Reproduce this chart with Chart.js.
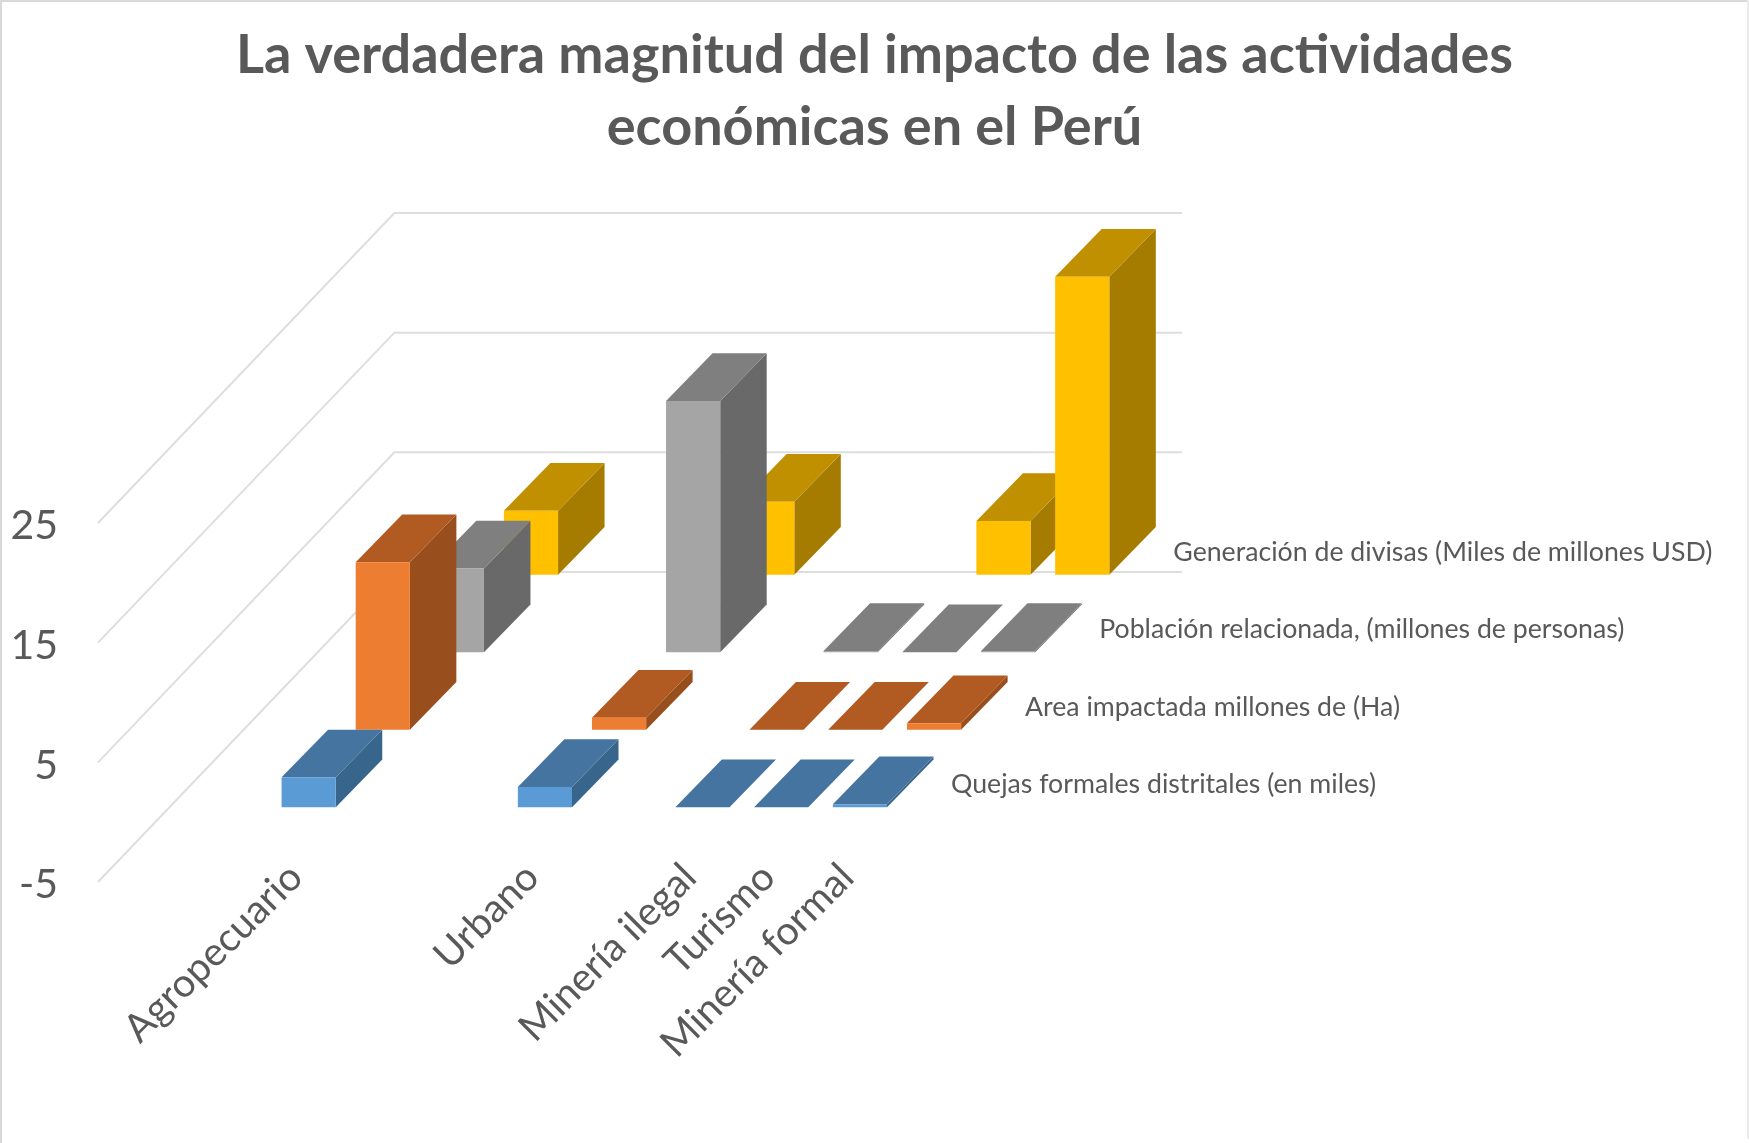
<!DOCTYPE html>
<html lang="es">
<head>
    <meta charset="UTF-8">
    <title>La verdadera magnitud del impacto</title>
    <script src="https://cdn.jsdelivr.net/npm/chart.js"></script>
    <style>
        body { margin: 0; background: #fff; }
    </style>
</head>
<body>
    <canvas id="chart" width="1749" height="1143"></canvas>

    <script>
        // blank categories are in the original sheet too, they give the uneven spacing
        const categories = ["", "", "Agropecuario", "", "", "Urbano", "", "Minería ilegal", "Turismo", "Minería formal"];
        const seriesNames = [
            "Quejas formales distritales (en miles)",
            "Area impactada millones de (Ha)",
            "Población relacionada, (millones de personas)",
            "Generación de divisas (Miles de millones USD)"
        ];
        const quejas    = [null, null, 2.5, null, null, 1.7, null, 0, 0, 0.25];
        const area      = [null, null, 14, null, null, 1, null, 0, 0, 0.55];
        const poblacion = [null, null, 7, null, null, 21, null, 0.1, 0, 0.1];
        const divisas   = [null, null, 5.35, null, null, 6.1, null, null, 4.5, 24.9];

        const frontColors = ["#5B9BD5", "#ED7D31", "#A5A5A5", "#FFC000"];
        const topColors   = ["#44749F", "#B15B22", "#7F7F7F", "#C09000"];
        const sideColors  = ["#38658C", "#994F1D", "#696969", "#A67C00"];

        const textColor = "#595959";
        const fontName = "Lato, sans-serif";

        // projection of the depth axis, in pixels
        const slotX = 74.1, slotY = 77.5;     // one series back
        const barDepthX = 46.5, barDepthY = 47.7;
        const gapX = 13.8, gapY = 14.9;       // front of slot to front of bar

        function offsetOf(k) {
            return { x: gapX + slotX * k, y: -(gapY + slotY * k) };
        }

        function fillPoly(ctx, color, pts) {
            ctx.fillStyle = color;
            ctx.beginPath();
            ctx.moveTo(pts[0][0], pts[0][1]);
            for (let i = 1; i < pts.length; i++) ctx.lineTo(pts[i][0], pts[i][1]);
            ctx.closePath();
            ctx.fill();
        }

        const walls3d = {
            id: "walls3d",
            // category labels start above the floor line, the scale clips them to its own box
            afterLayout(chart) {
                chart.scales.x.top -= 36;
            },
            beforeDraw(chart) {
                const ctx = chart.ctx;
                ctx.save();
                ctx.fillStyle = "#D9D9D9";
                ctx.fillRect(0, 0, chart.width, 2);
                ctx.fillRect(0, 0, 2, chart.height);
                ctx.fillStyle = "#EBEBEB";
                ctx.fillRect(chart.width - 2, 0, 2, chart.height - 4);
                ctx.restore();
            },
            beforeDatasetsDraw(chart) {
                const ctx = chart.ctx, y = chart.scales.y, left = chart.chartArea.left;
                const right = chart.chartArea.right;
                const backX = slotX * 4, backY = slotY * 4;
                ctx.save();
                ctx.strokeStyle = "#DEDEDE";
                ctx.lineWidth = 2;
                y.ticks.forEach(t => {
                    const py = y.getPixelForValue(t.value);
                    ctx.beginPath();
                    ctx.moveTo(left, py);
                    ctx.lineTo(left + backX, py - backY);
                    ctx.lineTo(right + backX, py - backY);
                    ctx.stroke();
                });
                ctx.restore();
            },
            // faces go first, then the library paints the front rect in the shifted context
            beforeDatasetDraw(chart, args) {
                const ctx = chart.ctx, k = args.index, off = offsetOf(k);
                const values = chart.data.datasets[k].data;
                ctx.save();
                ctx.translate(off.x, off.y);
                args.meta.data.forEach((el, i) => {
                    if (values[i] === null) return;
                    const l = el.x - el.width / 2, r = el.x + el.width / 2;
                    const t = el.y, b = el.base;
                    fillPoly(ctx, sideColors[k], [[r, t], [r + barDepthX, t - barDepthY], [r + barDepthX, b - barDepthY], [r, b]]);
                    fillPoly(ctx, topColors[k], [[l, t], [l + barDepthX, t - barDepthY], [r + barDepthX, t - barDepthY], [r, t]]);
                });
            },
            afterDatasetDraw(chart) {
                chart.ctx.restore();
            },
            afterDraw(chart) {
                const ctx = chart.ctx, y = chart.scales.y, right = chart.chartArea.right;
                ctx.save();
                ctx.fillStyle = textColor;
                ctx.font = "26.7px " + fontName;
                ctx.textAlign = "left";
                ctx.textBaseline = "middle";
                seriesNames.forEach((name, k) => {
                    ctx.fillText(name, right + 65.5 + slotX * k, y.getPixelForValue(-5) - 97.5 - slotY * k);
                });
                ctx.restore();
            }
        };

        const allValues = [quejas, area, poblacion, divisas];

        new Chart(document.getElementById("chart"), {
            type: "bar",
            data: {
                labels: categories,
                datasets: allValues.map((values, k) => ({
                    label: seriesNames[k],
                    data: values,
                    backgroundColor: frontColors[k],
                    grouped: false,
                    clip: false,
                    categoryPercentage: 1,
                    barPercentage: 0.688
                }))
            },
            options: {
                responsive: false,
                animation: false,
                layout: { autoPadding: false },
                plugins: {
                    legend: { display: false },
                    tooltip: { enabled: false },
                    title: {
                        display: true,
                        text: ["La verdadera magnitud del impacto de las actividades", "económicas en el Perú"],
                        color: textColor,
                        font: { family: fontName, size: 54, weight: "bold", lineHeight: 1.333 },
                        padding: { top: 20, bottom: 359 }
                    }
                },
                scales: {
                    x: {
                        grid: { display: false },
                        border: { display: false },
                        ticks: {
                            autoSkip: false,
                            minRotation: 45,
                            maxRotation: 45,
                            padding: 0,
                            labelOffset: 1,
                            color: textColor,
                            font: { family: fontName, size: 39.5 }
                        },
                        afterFit(s) { s.height = 261; }
                    },
                    y: {
                        min: -5,
                        max: 25,
                        grid: { display: false },
                        border: { display: false },
                        ticks: {
                            stepSize: 10,
                            padding: 32,
                            labelOffset: 3,
                            color: textColor,
                            font: { family: fontName, size: 41 }
                        },
                        afterFit(s) { s.width = 98; }
                    },
                    // empty box on the right, keeps the plot narrow and the title centred
                    gap: {
                        position: "right",
                        display: true,
                        grid: { display: false },
                        border: { display: false },
                        ticks: { display: false },
                        afterFit(s) { s.width = 863.5; }
                    }
                }
            },
            plugins: [walls3d]
        });
    </script>
</body>
</html>
